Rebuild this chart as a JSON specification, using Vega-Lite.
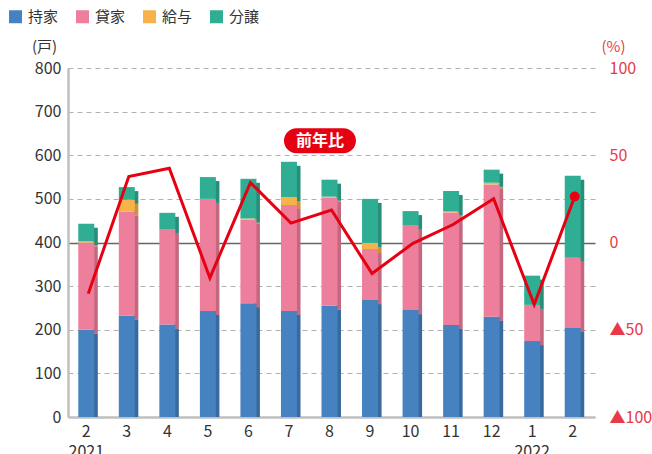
{
  "$schema": "https://vega.github.io/schema/vega-lite/v6.json",
  "autosize": "none",
  "width": 527,
  "height": 349,
  "padding": {"left": 68, "top": 68, "right": 57, "bottom": 37},
  "config": {
    "view": {"stroke": null},
    "font": "Noto Sans CJK JP"
  },
  "datasets": {
    "bars": [
      {"m": "2021/2", "type": "持家", "o": 1, "v": 200},
      {"m": "2021/2", "type": "貸家", "o": 2, "v": 200},
      {"m": "2021/2", "type": "給与", "o": 3, "v": 3},
      {"m": "2021/2", "type": "分譲", "o": 4, "v": 40},
      {"m": "2021/3", "type": "持家", "o": 1, "v": 232},
      {"m": "2021/3", "type": "貸家", "o": 2, "v": 239},
      {"m": "2021/3", "type": "給与", "o": 3, "v": 27},
      {"m": "2021/3", "type": "分譲", "o": 4, "v": 29},
      {"m": "2021/4", "type": "持家", "o": 1, "v": 212},
      {"m": "2021/4", "type": "貸家", "o": 2, "v": 219},
      {"m": "2021/4", "type": "分譲", "o": 4, "v": 37},
      {"m": "2021/5", "type": "持家", "o": 1, "v": 243},
      {"m": "2021/5", "type": "貸家", "o": 2, "v": 257},
      {"m": "2021/5", "type": "分譲", "o": 4, "v": 50},
      {"m": "2021/6", "type": "持家", "o": 1, "v": 261},
      {"m": "2021/6", "type": "貸家", "o": 2, "v": 192},
      {"m": "2021/6", "type": "給与", "o": 3, "v": 2},
      {"m": "2021/6", "type": "分譲", "o": 4, "v": 91},
      {"m": "2021/7", "type": "持家", "o": 1, "v": 243},
      {"m": "2021/7", "type": "貸家", "o": 2, "v": 243},
      {"m": "2021/7", "type": "給与", "o": 3, "v": 18},
      {"m": "2021/7", "type": "分譲", "o": 4, "v": 81},
      {"m": "2021/8", "type": "持家", "o": 1, "v": 255},
      {"m": "2021/8", "type": "貸家", "o": 2, "v": 248},
      {"m": "2021/8", "type": "給与", "o": 3, "v": 2},
      {"m": "2021/8", "type": "分譲", "o": 4, "v": 39},
      {"m": "2021/9", "type": "持家", "o": 1, "v": 268},
      {"m": "2021/9", "type": "貸家", "o": 2, "v": 117},
      {"m": "2021/9", "type": "給与", "o": 3, "v": 14},
      {"m": "2021/9", "type": "分譲", "o": 4, "v": 101},
      {"m": "2021/10", "type": "持家", "o": 1, "v": 245},
      {"m": "2021/10", "type": "貸家", "o": 2, "v": 195},
      {"m": "2021/10", "type": "分譲", "o": 4, "v": 32},
      {"m": "2021/11", "type": "持家", "o": 1, "v": 211},
      {"m": "2021/11", "type": "貸家", "o": 2, "v": 258},
      {"m": "2021/11", "type": "給与", "o": 3, "v": 2},
      {"m": "2021/11", "type": "分譲", "o": 4, "v": 47},
      {"m": "2021/12", "type": "持家", "o": 1, "v": 230},
      {"m": "2021/12", "type": "貸家", "o": 2, "v": 303},
      {"m": "2021/12", "type": "給与", "o": 3, "v": 4},
      {"m": "2021/12", "type": "分譲", "o": 4, "v": 30},
      {"m": "2022/1", "type": "持家", "o": 1, "v": 174},
      {"m": "2022/1", "type": "貸家", "o": 2, "v": 83},
      {"m": "2022/1", "type": "分譲", "o": 4, "v": 67},
      {"m": "2022/2", "type": "持家", "o": 1, "v": 204},
      {"m": "2022/2", "type": "貸家", "o": 2, "v": 161},
      {"m": "2022/2", "type": "分譲", "o": 4, "v": 188}
    ],
    "ratio": [
      {"m": "2021/2", "r": -29.3},
      {"m": "2021/3", "r": 37.8},
      {"m": "2021/4", "r": 42.5},
      {"m": "2021/5", "r": -20.3},
      {"m": "2021/6", "r": 34.3},
      {"m": "2021/7", "r": 11.1},
      {"m": "2021/8", "r": 18.6},
      {"m": "2021/9", "r": -17.8},
      {"m": "2021/10", "r": -0.6},
      {"m": "2021/11", "r": 10.3},
      {"m": "2021/12", "r": 25.1},
      {"m": "2022/1", "r": -35.6},
      {"m": "2022/2", "r": 26.4}
    ],
    "badge": [
      {"m": "2021/7", "r": 58.3, "label": "前年比"}
    ]
  },
  "encoding": {
    "x": {
      "field": "m",
      "type": "ordinal",
      "scale": {
        "domain": ["2021/2","2021/3","2021/4","2021/5","2021/6","2021/7","2021/8","2021/9","2021/10","2021/11","2021/12","2022/1","2022/2"],
        "paddingInner": 0,
        "paddingOuter": 0
      },
      "axis": {
        "title": null,
        "labelAngle": 0,
        "labelExpr": "datum.value == '2021/2' ? ['2', '2021'] : datum.value == '2022/1' ? ['1', '2022'] : split(datum.value, '/')[1]",
        "labelFontSize": 16,
        "labelColor": "#333333",
        "labelLineHeight": 20,
        "labelPadding": 6,
        "labelOffset": -2,
        "ticks": false,
        "domainColor": "#bfbfbf",
        "domainWidth": 2.5
      }
    }
  },
  "layer": [
    {
      "data": {"name": "bars"},
      "encoding": {
        "y": {
          "field": "v",
          "type": "quantitative",
          "stack": "zero",
          "scale": {"domain": [0, 800]},
          "axis": {
            "title": "(戸)",
            "titleAngle": 0,
            "titleX": -24,
            "titleY": -22,
            "titleAlign": "center",
            "titleBaseline": "middle",
            "titleFontSize": 15,
            "titleFontWeight": "normal",
            "titleColor": "#333333",
            "values": [0, 100, 200, 300, 400, 500, 600, 700, 800],
            "labelFontSize": 16,
            "labelColor": "#333333",
            "labelPadding": 7,
            "ticks": false,
            "domainColor": "#bfbfbf",
            "domainWidth": 2.5,
            "grid": true,
            "gridColor": {"condition": {"test": "datum.value === 400", "value": "#666666"}, "value": "#b0b0b0"},
            "gridDash": {"condition": {"test": "datum.value === 400", "value": []}, "value": [5, 4]},
            "gridWidth": {"condition": {"test": "datum.value === 400", "value": 1.6}, "value": 1}
          }
        },
        "color": {
          "field": "type",
          "type": "nominal",
          "scale": {
            "domain": ["持家", "貸家", "給与", "分譲"],
            "range": ["#4682c0", "#ee7f9c", "#f7b24a", "#2fae94"]
          },
          "legend": {
            "title": null,
            "orient": "none",
            "direction": "horizontal",
            "legendX": -60,
            "legendY": -59,
            "symbolType": "square",
            "symbolSize": 169,
            "symbolStrokeWidth": 0,
            "symbolOpacity": 1,
            "labelFontSize": 15,
            "labelColor": "#333333",
            "labelOffset": 5,
            "columnPadding": 16
          }
        },
        "order": {"field": "o", "type": "quantitative"}
      },
      "layer": [
        {"mark": {"type": "bar", "width": 5, "xOffset": 7, "yOffset": 4, "clip": true, "opacity": 1}},
        {
          "mark": {"type": "bar", "width": 5, "xOffset": 7, "yOffset": 4, "clip": true},
          "encoding": {"color": {"value": "#000000"}, "opacity": {"value": 0.18}}
        },
        {"mark": {"type": "bar", "width": 16, "xOffset": -2, "opacity": 1}}
      ]
    },
    {
      "encoding": {
        "y": {
          "field": "r",
          "type": "quantitative",
          "scale": {"domain": [-100, 100]},
          "axis": {
            "orient": "right",
            "title": "(%)",
            "titleAngle": 0,
            "titleX": 18,
            "titleY": -22,
            "titleAlign": "center",
            "titleBaseline": "middle",
            "titleFontSize": 15,
            "titleFontWeight": "normal",
            "titleColor": "#e83a48",
            "values": [-100, -50, 0, 50, 100],
            "labelExpr": "datum.value < 0 ? '▲' + abs(datum.value) : '' + datum.value",
            "labelFontSize": 16,
            "labelColor": "#e83a48",
            "labelPadding": 14,
            "ticks": false,
            "domain": false,
            "grid": false
          }
        }
      },
      "layer": [
        {
          "data": {"name": "ratio"},
          "mark": {"type": "line", "color": "#e60012", "strokeWidth": 3}
        },
        {
          "data": {"name": "ratio"},
          "transform": [{"filter": "datum.m == '2022/2'"}],
          "mark": {"type": "point", "filled": true, "color": "#e60012", "size": 100, "opacity": 1}
        },
        {
          "data": {"name": "badge"},
          "mark": {
            "type": "point",
            "filled": true,
            "opacity": 1,
            "color": "#e60012",
            "size": 4,
            "xOffset": 29,
            "shape": "M-23.5,-12.5 L23.5,-12.5 A12.5,12.5 0 0 1 23.5,12.5 L-23.5,12.5 A12.5,12.5 0 0 1 -23.5,-12.5 Z"
          }
        },
        {
          "data": {"name": "badge"},
          "mark": {
            "type": "text",
            "color": "#ffffff",
            "fontSize": 16,
            "fontWeight": "bold",
            "align": "center",
            "baseline": "middle",
            "xOffset": 29
          },
          "encoding": {"text": {"field": "label"}}
        }
      ]
    }
  ],
  "resolve": {"scale": {"y": "independent"}}
}
